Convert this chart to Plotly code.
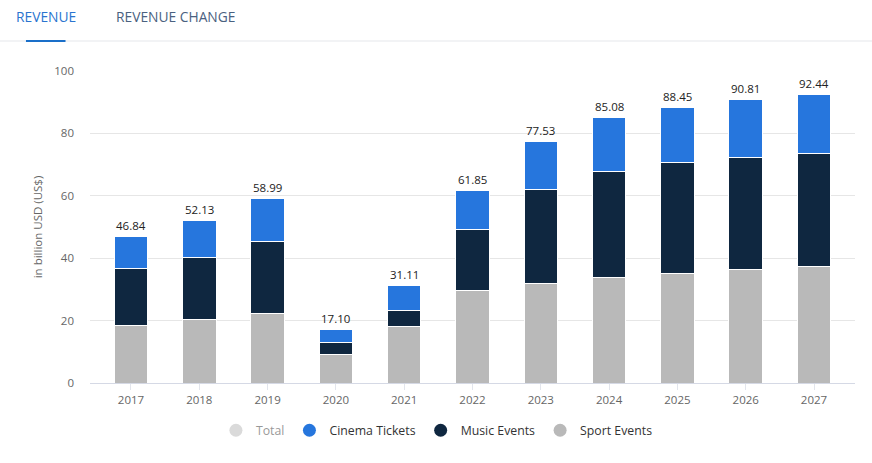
import plotly.graph_objects as go

years = ["2017","2018","2019","2020","2021","2022","2023","2024","2025","2026","2027"]
total = [46.84,52.13,58.99,17.10,31.11,61.85,77.53,85.08,88.45,90.81,92.44]
sport = [18.4,20.3,22.3,9.0,18.0,29.5,31.8,33.7,35.2,36.5,37.2]
music = [18.2,20.0,23.2,3.9,5.2,19.7,30.3,34.2,35.6,35.8,36.4]
cinema = [10.24,11.83,13.49,4.2,7.91,12.65,15.43,17.18,17.65,18.51,18.84]
total_labels = [f"{v:.2f}" for v in total]
tabs = ["REVENUE","REVENUE CHANGE"]

BLUE="#2676dd"; NAVY="#0f2740"; GREY="#b9b9b9"
FONT="Open Sans"
fig=go.Figure()
for vals,c in ((sport,GREY),(music,NAVY),(cinema,BLUE)):
    fig.add_bar(x=years,y=vals,marker=dict(color=c,line=dict(color="white",width=1)),width=0.49,showlegend=False)
for name,c,vis in (("Total","#b5b5b5","legendonly"),("Cinema Tickets",BLUE,True),("Music Events",NAVY,True),("Sport Events",GREY,True)):
    fig.add_scatter(x=[None],y=[None],mode="markers",name=name,visible=vis,marker=dict(color=c,size=13))

anns=[dict(text=tabs[0],xref="paper",yref="paper",x=-0.0995,y=1.175,xanchor="left",yanchor="middle",showarrow=False,font=dict(family=FONT,size=13.8,color="#2a74cf",weight=500)),
      dict(text=tabs[1],xref="paper",yref="paper",x=0.0315,y=1.175,xanchor="left",yanchor="middle",showarrow=False,font=dict(family=FONT,size=13.8,color="#4a6180",weight=500))]
for i,(v,t) in enumerate(zip(total,total_labels)):
    anns.append(dict(text=t,x=i,y=v,xref="x",yref="y",yshift=1.5,yanchor="bottom",showarrow=False,font=dict(family=FONT,size=11.5,color="#222")))

fig.update_layout(width=872,height=463,margin=dict(l=90,r=17,t=70.5,b=79.5),autosize=False,
    barmode="stack",paper_bgcolor="white",plot_bgcolor="white",
    font=dict(family=FONT,size=11.5,color="#666"),
    legend=dict(orientation="h",x=0.4535,xanchor="center",y=-0.105,yanchor="top",traceorder="normal",
        font=dict(family=FONT,size=12.3,color="#333"),itemclick=False,itemdoubleclick=False,itemwidth=30),
    shapes=[dict(type="line",xref="paper",yref="paper",x0=-0.1176,x1=1.0222,y0=1.0963,y1=1.0963,line=dict(color="#f2f3f5",width=2)),
            dict(type="line",xref="paper",yref="paper",x0=-0.0837,x1=-0.0320,y0=1.0963,y1=1.0963,line=dict(color="#1a6fc9",width=2))],
    annotations=anns)
fig.update_xaxes(type="category",range=[-0.6,10.6],showgrid=False,showline=True,linecolor="#d5d9e5",linewidth=1,
    ticks="outside",ticklen=6,tickcolor="#e2e5ec",tickfont=dict(family=FONT,size=11.5,color="#666"))
fig.update_yaxes(range=[0,100],dtick=20,gridcolor="#e6e6e6",gridwidth=1,zeroline=False,ticks="",
    title=dict(text="in billion USD (US$)",font=dict(family=FONT,size=11.5,color="#666"),standoff=9),tickfont=dict(family=FONT,size=11.5,color="#666"),ticklabelstandoff=15)
fig.write_html("out.html",config=dict(displayModeBar=False),post_script="document.body.style.margin='0';")
